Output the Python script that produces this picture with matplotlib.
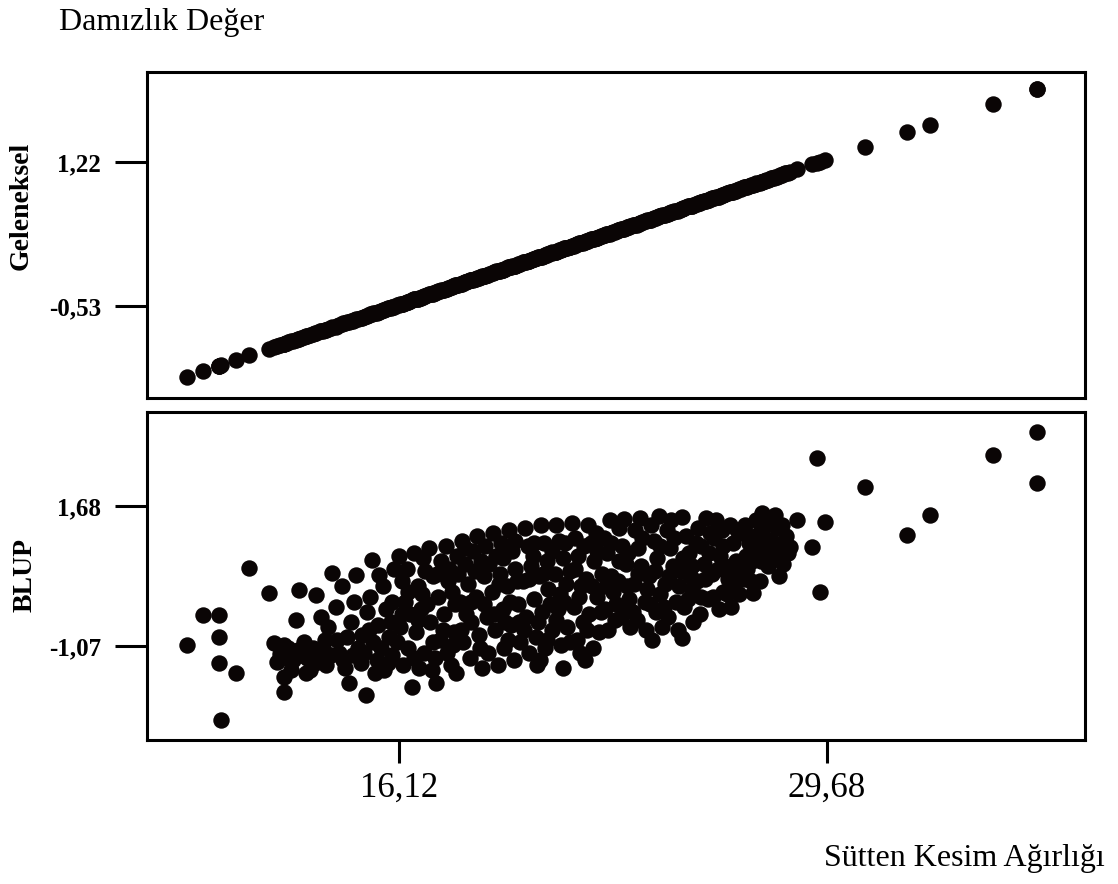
import matplotlib.pyplot as plt

# weaning weight of each calf (x) and its breeding values from two methods
wean_wt = [
    9.39, 9.90, 10.41, 10.41, 10.41, 10.47, 10.95, 11.36, 11.99, 12.15,
    12.25, 12.35, 12.47, 12.47, 12.47, 12.60, 12.70, 12.75, 12.85, 12.90,
    12.95, 13.10, 13.20, 13.30, 13.40, 13.49, 13.60, 13.64, 13.75, 13.80,
    13.85, 13.99, 14.10, 14.20, 14.30, 14.40, 14.45, 14.53, 14.60, 14.70,
    14.75, 14.80, 14.90, 14.95, 15.07, 15.10, 15.20, 15.26, 15.30, 15.40,
    15.45, 15.49, 15.60, 15.65, 15.70, 15.80, 15.85, 15.90, 15.95, 16.10,
    16.15, 16.20, 16.25, 16.30, 16.35, 16.40, 16.45, 16.53, 16.60, 16.65,
    16.70, 16.75, 16.80, 16.85, 16.90, 16.95, 17.05, 17.10, 17.15, 17.20,
    17.25, 17.29, 17.35, 17.40, 17.45, 17.55, 17.60, 17.65, 17.70, 17.75,
    17.80, 17.85, 17.90, 17.93, 17.95, 18.05, 18.10, 18.15, 18.20, 18.25,
    18.30, 18.35, 18.40, 18.45, 18.55, 18.60, 18.65, 18.70, 18.75, 18.80,
    18.85, 18.90, 18.95, 19.05, 19.10, 19.15, 19.20, 19.25, 19.30, 19.35,
    19.40, 19.45, 19.48, 19.55, 19.58, 19.60, 19.65, 19.70, 19.75, 19.80,
    19.85, 19.90, 19.95, 20.05, 20.10, 20.15, 20.20, 20.25, 20.30, 20.35,
    20.40, 20.45, 20.48, 20.55, 20.58, 20.60, 20.65, 20.70, 20.75, 20.80,
    20.85, 20.90, 20.95, 21.05, 21.10, 21.15, 21.20, 21.25, 21.30, 21.32,
    21.35, 21.40, 21.45, 21.55, 21.60, 21.65, 21.70, 21.75, 21.80, 21.85,
    21.90, 21.95, 22.00, 22.05, 22.10, 22.15, 22.20, 22.25, 22.30, 22.35,
    22.40, 22.45, 22.55, 22.60, 22.65, 22.70, 22.75, 22.79, 22.85, 22.90,
    22.95, 23.05, 23.10, 23.15, 23.20, 23.25, 23.30, 23.35, 23.40, 23.45,
    23.55, 23.60, 23.65, 23.70, 23.75, 23.80, 23.90, 23.95, 24.05, 24.10,
    24.15, 24.20, 24.25, 24.30, 24.35, 24.40, 24.45, 24.55, 24.60, 24.65,
    24.70, 24.75, 24.80, 24.90, 24.95, 25.05, 25.10, 25.10, 25.15, 25.20,
    25.30, 25.35, 25.40, 25.45, 25.55, 25.60, 25.65, 25.70, 25.80, 25.85,
    25.90, 25.95, 26.05, 26.10, 26.18, 26.25, 26.30, 26.35, 26.40, 26.45,
    26.55, 26.60, 26.65, 26.70, 26.75, 26.80, 26.90, 26.95, 27.05, 27.10,
    27.15, 27.20, 27.30, 27.33, 27.40, 27.45, 27.55, 27.60, 27.64, 27.70,
    27.75, 27.80, 27.90, 27.95, 28.05, 28.10, 28.15, 28.20, 28.30, 28.40,
    28.45, 28.50, 28.75, 29.20, 29.36, 29.45, 29.61, 30.88, 32.21, 32.95,
    34.95, 36.34, 36.34,
    12.55, 13.00, 13.15, 13.45, 13.70, 13.95, 14.15, 14.35, 14.65, 15.00,
    15.15, 15.35, 15.55, 15.75, 15.90, 16.05, 16.22, 16.40, 16.58, 16.72,
    16.88, 17.00, 17.18, 17.32, 17.50, 17.68, 17.82, 17.98, 18.08, 18.22,
    18.38, 18.52, 18.68, 18.82, 18.98, 19.12, 19.28, 19.42, 19.62, 19.78,
    19.92, 20.08, 20.22, 20.38, 20.52, 20.68, 20.82, 20.98, 21.08, 21.22,
    21.38, 21.52, 21.68, 21.82, 21.98, 22.08, 22.22, 22.38, 22.52, 22.68,
    22.82, 22.98, 23.08, 23.22, 23.38, 23.52, 23.68, 23.82, 23.98, 24.08,
    24.22, 24.38, 24.52, 24.68, 24.82, 24.98, 25.12, 25.28, 25.42, 25.52,
    25.68, 25.82, 25.98, 26.08, 26.22, 26.38, 26.52, 26.68, 26.82, 26.98,
    27.12, 27.28, 27.42, 27.58, 27.72, 27.88, 28.02, 28.25, 28.35,
]

trad_bv = [
    -1.39, -1.32, -1.26, -1.26, -1.26, -1.25, -1.19, -1.13, -1.05, -1.03,
    -1.02, -1.00, -0.99, -0.99, -0.99, -0.97, -0.96, -0.95, -0.94, -0.93,
    -0.93, -0.91, -0.89, -0.88, -0.87, -0.86, -0.84, -0.84, -0.82, -0.82,
    -0.81, -0.79, -0.78, -0.76, -0.75, -0.74, -0.73, -0.72, -0.71, -0.70,
    -0.69, -0.69, -0.67, -0.67, -0.65, -0.65, -0.63, -0.63, -0.62, -0.61,
    -0.60, -0.60, -0.58, -0.58, -0.57, -0.56, -0.55, -0.54, -0.54, -0.52,
    -0.51, -0.50, -0.50, -0.49, -0.48, -0.48, -0.47, -0.46, -0.45, -0.45,
    -0.44, -0.43, -0.43, -0.42, -0.41, -0.41, -0.39, -0.39, -0.38, -0.37,
    -0.37, -0.36, -0.35, -0.35, -0.34, -0.33, -0.32, -0.32, -0.31, -0.30,
    -0.30, -0.29, -0.28, -0.28, -0.28, -0.26, -0.26, -0.25, -0.24, -0.24,
    -0.23, -0.22, -0.22, -0.21, -0.20, -0.19, -0.19, -0.18, -0.17, -0.17,
    -0.16, -0.15, -0.15, -0.13, -0.13, -0.12, -0.11, -0.11, -0.10, -0.09,
    -0.09, -0.08, -0.08, -0.07, -0.06, -0.06, -0.06, -0.05, -0.04, -0.04,
    -0.03, -0.02, -0.02, 0.00, 0.00, 0.01, 0.02, 0.02, 0.03, 0.04,
    0.04, 0.05, 0.05, 0.06, 0.07, 0.07, 0.07, 0.08, 0.09, 0.09,
    0.10, 0.11, 0.11, 0.13, 0.13, 0.14, 0.15, 0.15, 0.16, 0.16,
    0.17, 0.17, 0.18, 0.19, 0.20, 0.20, 0.21, 0.22, 0.22, 0.23,
    0.24, 0.24, 0.25, 0.26, 0.26, 0.27, 0.28, 0.28, 0.29, 0.30,
    0.30, 0.31, 0.32, 0.33, 0.33, 0.34, 0.35, 0.35, 0.36, 0.37,
    0.37, 0.39, 0.39, 0.40, 0.41, 0.41, 0.42, 0.43, 0.43, 0.44,
    0.45, 0.46, 0.46, 0.47, 0.48, 0.48, 0.50, 0.50, 0.52, 0.52,
    0.53, 0.54, 0.54, 0.55, 0.56, 0.56, 0.57, 0.58, 0.59, 0.59,
    0.60, 0.61, 0.61, 0.63, 0.63, 0.65, 0.65, 0.65, 0.66, 0.67,
    0.68, 0.69, 0.69, 0.70, 0.71, 0.72, 0.72, 0.73, 0.74, 0.75,
    0.76, 0.76, 0.78, 0.78, 0.79, 0.80, 0.81, 0.82, 0.82, 0.83,
    0.84, 0.85, 0.85, 0.86, 0.87, 0.87, 0.89, 0.89, 0.91, 0.91,
    0.92, 0.93, 0.94, 0.94, 0.95, 0.96, 0.97, 0.98, 0.98, 0.99,
    1.00, 1.00, 1.02, 1.02, 1.04, 1.04, 1.05, 1.06, 1.07, 1.08,
    1.09, 1.10, 1.13, 1.19, 1.21, 1.22, 1.24, 1.40, 1.58, 1.67,
    1.93, 2.11, 2.11,
    -0.98, -0.92, -0.90, -0.86, -0.83, -0.80, -0.77, -0.74, -0.71, -0.66,
    -0.64, -0.61, -0.59, -0.56, -0.54, -0.52, -0.50, -0.48, -0.45, -0.44,
    -0.42, -0.40, -0.38, -0.36, -0.34, -0.31, -0.29, -0.27, -0.26, -0.24,
    -0.22, -0.20, -0.18, -0.16, -0.14, -0.12, -0.10, -0.09, -0.06, -0.04,
    -0.02, 0.00, 0.02, 0.04, 0.06, 0.08, 0.10, 0.12, 0.13, 0.15,
    0.17, 0.19, 0.21, 0.23, 0.25, 0.26, 0.28, 0.30, 0.32, 0.34,
    0.36, 0.38, 0.39, 0.41, 0.43, 0.45, 0.47, 0.49, 0.51, 0.52,
    0.54, 0.56, 0.58, 0.60, 0.62, 0.64, 0.66, 0.68, 0.69, 0.71,
    0.73, 0.75, 0.77, 0.78, 0.80, 0.82, 0.84, 0.86, 0.88, 0.90,
    0.92, 0.94, 0.95, 0.98, 0.99, 1.01, 1.03, 1.06, 1.08,
]

blup_bv = [
    -1.05, -0.46, -0.46, -0.89, -1.40, -2.52, -1.60, 0.46, -0.03, -1.02,
    -1.38, -1.22, -1.05, -1.68, -1.97, -1.10, -1.55, -1.35, -0.56, -1.15,
    0.03, -1.00, -1.30, -1.55, -1.10, -0.07, -1.25, -0.50, -0.95, -1.45,
    -0.70, 0.36, -0.30, -1.20, 0.10, -1.50, -0.90, -1.80, -0.60, -0.20,
    0.32, -1.10, -1.40, -0.85, -2.03, -0.40, -0.10, 0.62, -1.00, -1.35,
    -0.65, 0.32, 0.10, -1.55, -0.35, -0.90, -0.60, -1.25, 0.45, 0.70,
    -0.70, 0.20, -1.45, -0.20, 0.45, -1.10, -0.45, -1.88, 0.75, -0.80,
    0.10, -1.50, -0.35, -0.05, -1.20, 0.40, 0.85, -0.60, -1.55, 0.30,
    -1.30, -1.80, -0.10, -0.95, 0.60, -0.45, 0.90, -1.20, 0.45, -1.45,
    0.00, -0.80, -0.25, -1.60, 0.70, -0.20, 1.00, -1.00, 0.55, -0.45,
    0.15, -1.30, -0.60, 0.80, -0.10, 1.10, -0.85, 0.60, -1.50, 0.30,
    0.90, -0.50, -1.20, 0.00, 1.15, -0.75, 0.70, -1.45, 0.35, 0.95,
    -0.35, -1.10, -0.60, 0.10, -0.95, 1.20, -0.65, 0.80, -1.35, 0.45,
    0.20, -0.25, -1.00, 0.20, 1.25, -0.50, 0.90, -1.20, 0.50, 0.70,
    -0.15, -0.90, -1.45, 0.30, -1.35, 1.30, -0.40, 0.95, -1.10, 0.60,
    0.05, -0.25, -0.75, 0.35, 1.30, -0.35, 1.00, -1.05, 0.65, -1.50,
    -0.20, 0.15, -0.70, 0.40, 1.35, -0.30, 1.05, -0.95, 0.70, -1.20,
    0.10, -0.60, -1.35, 0.25, 1.30, -0.45, 0.95, -1.10, 0.60, 1.15,
    -0.10, -0.80, 0.35, 1.05, -0.35, 0.75, -0.75, 1.40, 0.30, 0.00,
    -0.55, 0.20, 1.25, -0.50, 0.90, 1.42, 0.55, 0.10, -0.15, -0.70,
    0.15, 1.20, -0.55, 0.85, 1.45, 0.50, -0.20, -0.75, 0.30, 1.30,
    -0.95, 1.00, -0.40, 0.65, 1.48, -0.05, -0.70, 0.15, 1.20, -0.50,
    0.85, 1.40, 0.50, -0.20, -0.75, 0.40, 1.46, -0.91, -0.30, 1.10,
    0.75, 0.30, 0.05, -0.60, 0.20, 1.25, -0.45, 0.90, 0.55, 1.45,
    -0.15, 0.75, 0.35, 1.05, 1.40, -0.35, 0.70, 1.20, 0.00, 0.50,
    0.25, 1.30, -0.30, 0.95, 0.15, 0.60, -0.05, 1.15, 0.25, 1.30,
    0.45, 0.95, 0.60, -0.03, 1.10, 0.80, 0.20, 1.20, 1.54, 0.85,
    1.30, 0.50, 1.00, 0.65, 1.50, 1.25, 0.30, 0.90, 0.55, 1.10,
    0.75, 0.87, 1.40, 0.87, 2.62, 0.00, 1.37, 2.05, 1.11, 1.50,
    2.68, 3.13, 2.13,
    -1.30, -1.25, -1.60, -1.40, -1.10, -1.25, -0.95, -1.35, -1.25, -1.20,
    -0.75, -1.60, -1.10, -1.40, -0.20, -1.00, -0.45, 0.00, -1.30, -0.55,
    0.65, -0.25, -1.00, 0.35, -0.75, 0.20, -1.05, 0.35, -0.75, 0.85,
    -0.20, 0.40, -1.10, -0.25, 0.55, -0.45, 0.15, 0.65, -0.20, 1.00,
    -0.60, -0.75, 0.25, 0.95, -0.60, 0.35, -0.95, 0.80, -0.55, -0.05,
    0.95, -1.00, 0.45, -0.10, 0.90, -0.75, 0.10, 0.80, -0.40, 0.10,
    0.95, -0.25, 0.60, -0.30, 0.75, -0.40, 0.35, 1.05, 0.05, -0.25,
    0.40, 0.90, -0.30, 0.30, 1.05, 0.10, 0.65, -0.15, 0.50, 0.95,
    -0.10, 0.25, 1.15, -0.10, 0.45, 0.90, -0.05, 0.40, 1.20, 0.35,
    0.70, 0.20, 1.40, 0.60, 1.05, 0.75, 0.95, 1.30, 0.80,
]

top_ticks = [1.22, -0.53]
top_labels = ["1,22", "-0,53"]
bot_ticks = [1.68, -1.07]
bot_labels = ["1,68", "-1,07"]
x_ticks = [16.12, 29.68]
x_labels = ["16,12", "29,68"]

plt.rcParams['font.family'] = ['Liberation Serif', 'DejaVu Serif']

fig = plt.figure(figsize=(11.18, 8.84), dpi=100)

ax1 = fig.add_axes([0.1315, 0.5498, 0.8390, 0.3688])
ax2 = fig.add_axes([0.1315, 0.1629, 0.8390, 0.3710])

for ax in (ax1, ax2):
    for sp in ax.spines.values():
        sp.set_linewidth(2.2)
    ax.set_xlim(8.12, 37.87)
    ax.tick_params(axis='y', length=23, width=2.2, pad=10, labelsize=18)
    ax.tick_params(axis='x', length=16.5, width=2.2, pad=6, labelsize=25)

ax1.scatter(wean_wt, trad_bv, s=140, c='#0a0505', linewidths=0)
ax2.scatter(wean_wt, blup_bv, s=140, c='#0a0505', linewidths=0)

ax1.set_ylim(-1.648, 2.314)
ax2.set_ylim(-2.916, 3.526)

ax1.set_xticks([])
ax1.set_yticks(top_ticks)
ax1.set_yticklabels(top_labels, fontweight='bold')

ax2.set_yticks(bot_ticks)
ax2.set_yticklabels(bot_labels, fontweight='bold')
ax2.set_xticks(x_ticks)
ax2.set_xticklabels(x_labels)

fig.text(59 / 1118, 1 - 30 / 884, "Damızlık Değer", fontsize=23, va='baseline')
fig.text(1105 / 1118, 1 - 866 / 884, "Sütten Kesim Ağırlığı", fontsize=23,
         ha='right', va='baseline')
fig.text(21 / 1118, 1 - 206 / 884, "Geleneksel", rotation=90, fontsize=20,
         fontweight='bold', ha='center', va='center')
fig.text(25 / 1118, 1 - 575 / 884, "BLUP", rotation=90, fontsize=20,
         fontweight='bold', ha='center', va='center')

fig.savefig("out.png", dpi=100)
